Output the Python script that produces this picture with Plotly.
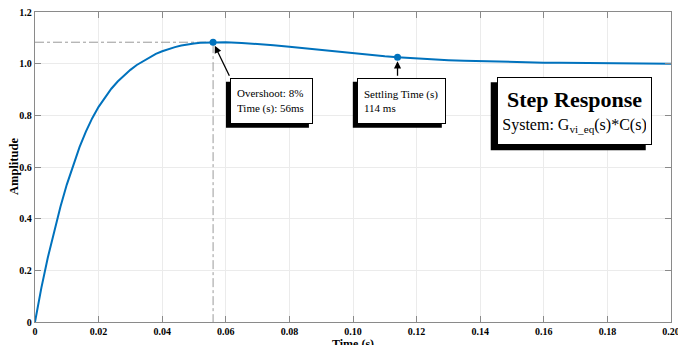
import plotly.graph_objects as go

# ---- data ----
t = [0.000, 0.002, 0.004, 0.006, 0.008, 0.010, 0.012, 0.014, 0.016, 0.018,
     0.020, 0.022, 0.024, 0.026, 0.028, 0.030, 0.032, 0.034, 0.036, 0.038,
     0.040, 0.042, 0.044, 0.046, 0.048, 0.050, 0.052, 0.054, 0.056, 0.060,
     0.065, 0.070, 0.075, 0.080, 0.085, 0.090, 0.095, 0.100, 0.105, 0.110,
     0.114, 0.120, 0.125, 0.130, 0.135, 0.140, 0.145, 0.150, 0.155, 0.160,
     0.165, 0.170, 0.175, 0.180, 0.185, 0.190, 0.195, 0.200]
amp = [0.000, 0.132, 0.248, 0.352, 0.446, 0.532, 0.609, 0.677, 0.737, 0.789,
       0.833, 0.870, 0.903, 0.931, 0.955, 0.976, 0.995, 1.010, 1.025, 1.038,
       1.048, 1.057, 1.064, 1.070, 1.075, 1.078, 1.081, 1.082, 1.083, 1.0825,
       1.0802, 1.0765, 1.0715, 1.0655, 1.0590, 1.0522, 1.0455, 1.0392, 1.0335, 1.0283,
       1.0246, 1.0199, 1.0165, 1.0136, 1.0112, 1.0092, 1.0075, 1.0061, 1.0050, 1.0040,
       1.0032, 1.0025, 1.0019, 1.0014, 1.0010, 1.0006, 1.0003, 1.0001]

peak_t, peak_y = 0.056, 1.083
settle_t, settle_y = 0.114, 1.0246

x_ticks = [0, 0.02, 0.04, 0.06, 0.08, 0.10, 0.12, 0.14, 0.16, 0.18, 0.20]
x_ticklabels = ["0", "0.02", "0.04", "0.06", "0.08", "0.10", "0.12", "0.14", "0.16", "0.18", "0.20"]
y_ticks = [0, 0.2, 0.4, 0.6, 0.8, 1.0, 1.2]
y_ticklabels = ["0", "0.2", "0.4", "0.6", "0.8", "1.0", "1.2"]

BLUE = "#0072BD"
SERIF = "Liberation Serif"

fig = go.Figure()

# guide lines to the peak
fig.add_trace(go.Scatter(x=[0, peak_t, peak_t], y=[peak_y, peak_y, 0], mode="lines",
                         line=dict(color="#808080", width=0.8, dash="dashdot"),
                         hoverinfo="skip", showlegend=False))
fig.add_trace(go.Scatter(x=t, y=amp, mode="lines", line=dict(color=BLUE, width=2),
                         showlegend=False))
fig.add_trace(go.Scatter(x=[peak_t, settle_t], y=[peak_y, settle_y], mode="markers",
                         marker=dict(color=BLUE, size=7), showlegend=False))

ann = []
shapes = []

def boxed(x, y, text, outer_w, outer_h, shift, align="left", size=11, pad=6):
    # shadow rectangle (pixel-sized, anchored at the box's top-left)
    shapes.append(dict(type="rect", xref="x", yref="y", xsizemode="pixel", ysizemode="pixel",
                       xanchor=x, yanchor=y,
                       x0=shift[0], x1=shift[0] + outer_w,
                       y0=shift[1] - outer_h, y1=shift[1],
                       fillcolor="black", line=dict(width=0), layer="above"))
    ann.append(dict(text=text, x=x, y=y, xref="x", yref="y", xanchor="left", yanchor="top",
                    showarrow=False, width=outer_w - 2 * (pad + 1), height=outer_h - 2 * (pad + 1),
                    borderpad=pad, borderwidth=1, bordercolor="black", bgcolor="white",
                    align=align, valign="middle",
                    font=dict(family=SERIF, size=size, color="black")))

# arrows
ann.append(dict(x=peak_t, y=peak_y, xref="x", yref="y", ax=17, ay=35, text="",
                showarrow=True, arrowhead=2, arrowsize=1.1, arrowwidth=1.3,
                arrowcolor="black", standoff=4))
ann.append(dict(x=settle_t, y=settle_y, xref="x", yref="y", ax=0, ay=20, text="",
                showarrow=True, arrowhead=2, arrowsize=1.1, arrowwidth=1.3,
                arrowcolor="black", standoff=4))

boxed(0.0613, 0.9457, "Overshoot: 8%<br>Time (s): 56ms", 83, 46, (-4, -4))
boxed(0.1012, 0.9457, "Settling Time (s)<br>114 ms", 89, 46, (-4, -4))
boxed(0.1452, 0.9473,
      "<span style='font-size:22px'><b>Step Response</b></span><br>"
      "<span style='font-size:16px'>System: G<sub>vi_eq</sub>(s)*C(s)</span>",
      155, 68, (-6, -5), align="center", size=18, pad=5)

# axis titles
ann.append(dict(text="<b>Time (s)</b>", x=0.5, y=-0.072, xref="paper", yref="paper",
                xanchor="center", yanchor="middle", showarrow=False,
                font=dict(family=SERIF, size=12, color="black")))
ann.append(dict(text="<b>Amplitude</b>", x=-0.033, y=0.5, xref="paper", yref="paper",
                xanchor="center", yanchor="middle", showarrow=False, textangle=-90,
                font=dict(family=SERIF, size=12.5, color="black")))

axis_common = dict(showgrid=True, gridcolor="#ebebeb", gridwidth=1,
                   showline=True, linecolor="#8a8a8a", linewidth=1.3, mirror="ticks",
                   ticks="inside", ticklen=6, tickcolor="#8a8a8a", tickwidth=1,
                   zeroline=False, ticklabeloverflow="allow", automargin=False,
                   tickfont=dict(family=SERIF, size=10, color="black", weight="bold"))

fig.update_layout(
    width=678, height=345,
    margin=dict(l=35, r=7, t=12, b=23, autoexpand=False),
    paper_bgcolor="white", plot_bgcolor="white",
    xaxis=dict(range=[0, 0.2], tickvals=x_ticks, ticktext=x_ticklabels, **axis_common),
    yaxis=dict(range=[0, 1.2], tickvals=y_ticks, ticktext=y_ticklabels, **axis_common),
    annotations=ann,
    shapes=shapes,
    showlegend=False,
)

fig.write_html("out.html")
